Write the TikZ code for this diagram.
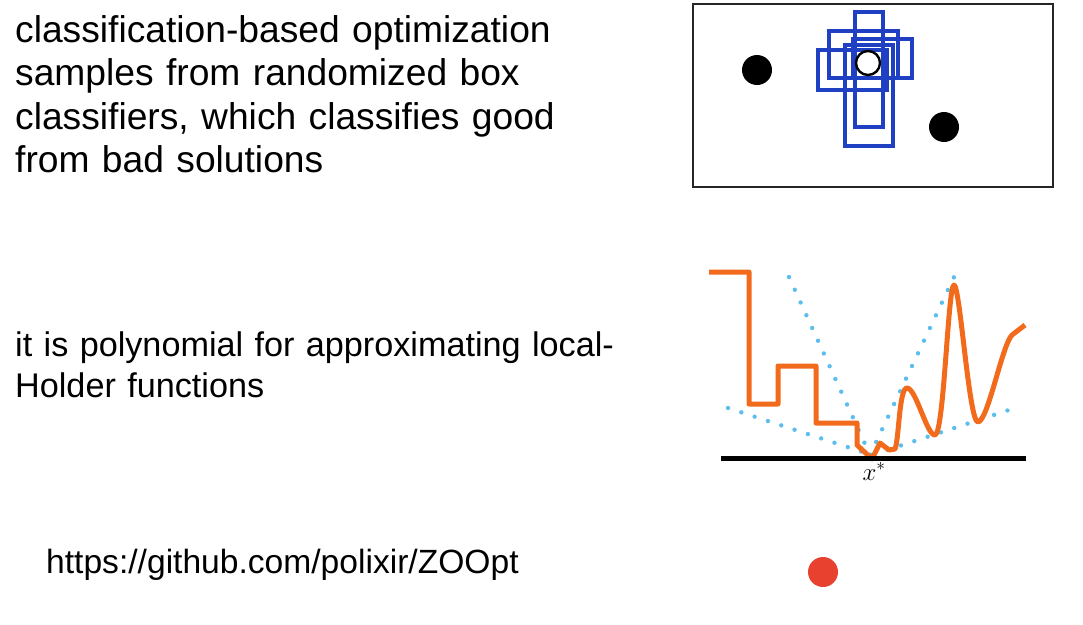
\documentclass[tikz,border=0pt]{standalone}
\usepackage{fontspec}
\setmainfont{Liberation Sans}
\begin{document}
\definecolor{boxblue}{RGB}{32,64,196}
\definecolor{curveorange}{RGB}{242,106,27}
\definecolor{dotblue}{RGB}{92,190,236}
\definecolor{dotred}{RGB}{232,65,47}
\begin{tikzpicture}[x=1pt,y=-1pt,
  bodytext/.style={anchor=base west,inner sep=0pt,text width=700pt,align=left},
  urltext/.style={anchor=base west,inner sep=0pt,font=\fontsize{33.6}{40}\selectfont},
  sample/.style={draw=boxblue,line width=3.2pt},
  solid dot/.style={circle,fill=black,inner sep=0pt,minimum size=30pt},
  guide/.style={dotblue,line width=4.4pt,line cap=round,dash pattern=on 0pt off 14pt},
  fcurve/.style={curveorange,line width=5pt,line join=round}]
\useasboundingbox (0,0) rectangle (1083,624);

% text on the left
\node[bodytext,font=\fontsize{37.2}{43.5}\selectfont] (t1) at (15,42) {classification-based optimization\\samples from randomized box\\classifiers, which classifies good\\from bad solutions};
\node[bodytext,font=\fontsize{34.2}{41}\selectfont] (t2) at (15,356) {it is polynomial for approximating local-\\Holder functions};
\node[urltext] (url) at (46,573) {https://github.com/polixir/ZOOpt};

% search space with sampled box classifiers
\node[draw=black!85,line width=2.5pt,minimum width=360pt,minimum height=183pt,inner sep=0pt] (space) at (873,95.5) {};
\draw[sample] (855,12) rectangle (883,127);
\draw[sample] (829,31) rectangle (898,78);
\draw[sample] (853,39) rectangle (912,78);
\draw[sample] (818,50) rectangle (887,90);
\draw[sample] (845,45) rectangle (893,146);
\node[solid dot] (bad1) at (757,70) {};
\node[solid dot] (bad2) at (944,127) {};
\node[circle,draw=black,fill=white,line width=2.4pt,inner sep=0pt,minimum size=24pt] (good) at (868,63) {};

% local-Holder bounds
\draw[guide] (789,277) -- (870,455) -- (954,277);
\draw[guide] (728,408) -- (872,455) -- (1015,408);

% objective function
\draw[fcurve] (709,272) -- (749,272) -- (749,404) -- (778,404) -- (778,366) -- (816,366)
  -- (816,423) -- (857,423) -- (857,445) -- (872,459) -- (880,443) -- (889,450) -- (895,449)
  .. controls (899,440) and (899,388) .. (907,388)
  .. controls (916,388) and (927,436) .. (935,435)
  .. controls (944,434) and (948,285) .. (954,285)
  .. controls (960,285) and (969,423) .. (978,422)
  .. controls (988,421) and (1002,345) .. (1012,335)
  -- (1025,325);

% axis and optimum
\coordinate (axl) at (721,458);
\coordinate (axr) at (1026,458);
\draw[line width=5pt] (axl) -- (axr);
\node[anchor=base,inner sep=0pt,font=\fontsize{24}{28}\selectfont] (xstar) at (874,480) {$x^*$};

% red dot
\node[circle,fill=dotred,inner sep=0pt,minimum size=30pt] (reddot) at (823,572) {};
\end{tikzpicture}
\end{document}
